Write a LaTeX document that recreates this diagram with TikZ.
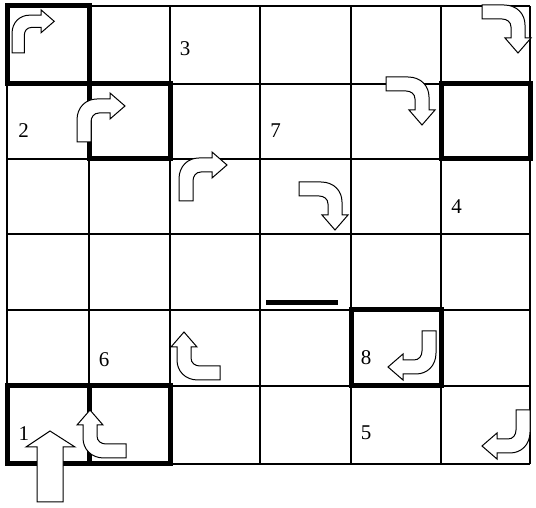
\documentclass[tikz,border=0pt]{standalone}
\usepackage{fontspec}
\setmainfont{Liberation Serif}
\tikzset{
  thin grid/.style={line width=1.8pt, black},
  thick cell/.style={line width=5pt, black, line join=miter},
  arrowline/.style={draw=black, fill=white, line width=1pt, line join=miter},
  digit/.style={font=\fontsize{21}{21}\selectfont, inner sep=0pt, anchor=center},
  barrow/.pic={\draw[arrowline] (0,0) -- (0,22) .. controls (0,35) and (9,43) .. (20,43) -- (33,43) -- (33,49) -- (48,36) -- (33,23) -- (33,29) -- (22,29) .. controls (17,29) and (14,25) .. (14,20) -- (14,0) -- cycle;}
}
\begin{document}
\begin{tikzpicture}[x=1pt,y=1pt]
\useasboundingbox (0,0) rectangle (536,508);
\fill[white] (0,0) rectangle (536,508);
% thin grid
\foreach \x in {7,89,170,260,351,441,530} \draw[thin grid] (\x,44) -- (\x,502);
\foreach \y in {44,122,198,274,349,424,502} \draw[thin grid] (7,\y) -- (530,\y);
% thick cells
\draw[thick cell] (7,424) rectangle (89,502);
\draw[thick cell] (89,349) rectangle (170,424);
\draw[thick cell] (441,349) rectangle (530,424);
\draw[thick cell] (351,122) rectangle (441,198);
\draw[thick cell] (7,44) rectangle (89,122);
\draw[thick cell] (89,44) rectangle (170,122);
% bar
\draw[line width=5pt] (266,205.5) -- (338,205.5);
% bent arrows
\pic[scale=0.88] at (12,455) {barrow};
\pic at (77,366) {barrow};
\pic at (179,307) {barrow};
\pic[rotate=-90] at (482,503) {barrow};
\pic[rotate=-90] at (386,431) {barrow};
\pic[rotate=-90] at (299,326) {barrow};
\pic[rotate=180] at (436,177) {barrow};
\pic[rotate=180] at (530,98) {barrow};
\pic[rotate=90] at (220,128) {barrow};
\pic[rotate=90] at (126,50) {barrow};
% big up arrow
\draw[arrowline] (37,6) -- (37,61) -- (26,61) -- (50,77) -- (75,61) -- (63,61) -- (63,6) -- cycle;
% digits
\node[digit] (n3) at (185,459) {3};
\node[digit] (n2) at (23.5,377) {2};
\node[digit] (n7) at (275.5,377) {7};
\node[digit] (n4) at (456.5,301) {4};
\node[digit] (n6) at (104,148) {6};
\node[digit] (n8) at (366,150.5) {8};
\node[digit] (n5) at (366,75.5) {5};
\node[digit] (n1) at (24,74.5) {1};
\end{tikzpicture}
\end{document}
